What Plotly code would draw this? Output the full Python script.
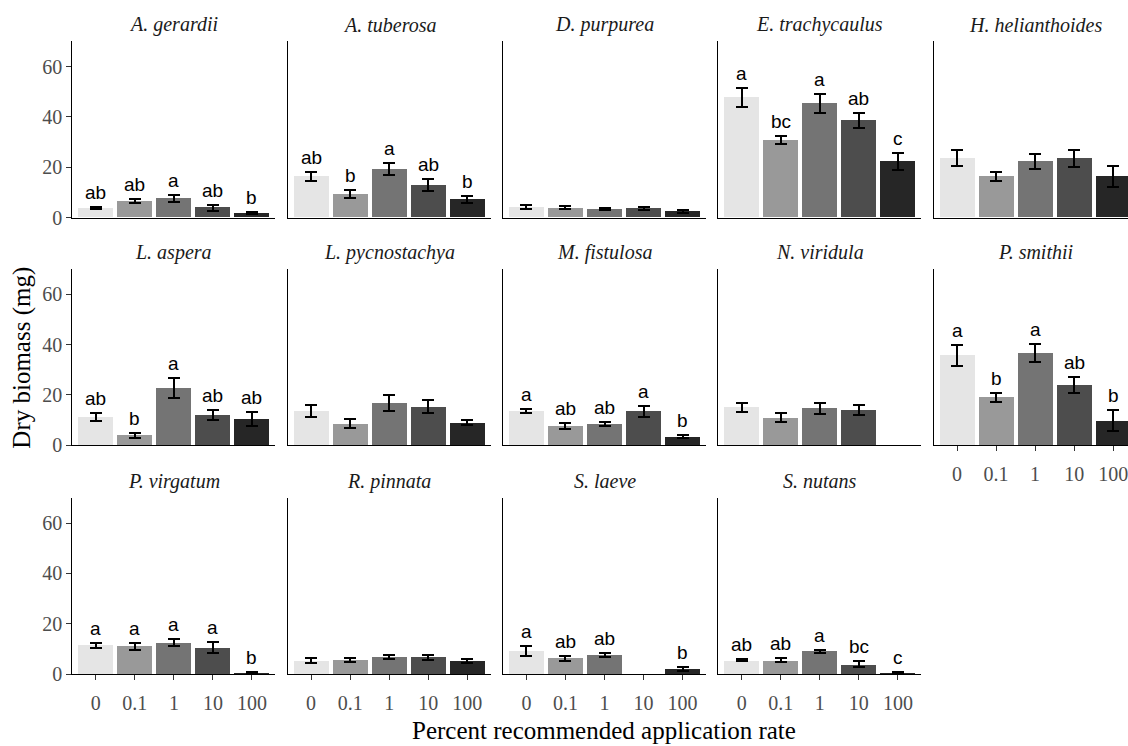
import plotly.graph_objects as go

# Application rates (percent of recommended) shown on every panel
rates = ["0", "0.1", "1", "10", "100"]

species = [
    "A. gerardii", "A. tuberosa", "D. purpurea", "E. trachycaulus", "H. helianthoides",
    "L. aspera", "L. pycnostachya", "M. fistulosa", "N. viridula", "P. smithii",
    "P. virgatum", "R. pinnata", "S. laeve", "S. nutans",
]

# Mean dry biomass (mg) per species and rate; None = no surviving plants
biomass_mean = [
    [3.9, 6.6, 7.7, 4.0, 1.8],
    [16.3, 9.4, 19.3, 13.0, 7.3],
    [4.3, 3.9, 3.3, 3.6, 2.5],
    [47.7, 30.8, 45.5, 38.5, 22.2],
    [23.7, 16.4, 22.3, 23.5, 16.3],
    [11.1, 4.0, 22.9, 12.0, 10.4],
    [13.6, 8.6, 16.8, 15.4, 9.0],
    [13.5, 7.7, 8.5, 13.5, 3.5],
    [15.2, 11.0, 14.7, 14.0, None],
    [35.8, 19.0, 36.7, 23.9, 9.7],
    [11.5, 11.1, 12.5, 10.6, 0.6],
    [5.5, 5.7, 6.9, 6.8, 5.3],
    [9.2, 6.4, 7.6, None, 2.1],
    [5.5, 5.5, 9.1, 3.9, 0.6],
]

# Standard error of the mean
biomass_se = [
    [0.4, 0.8, 1.3, 1.2, 0.5],
    [1.9, 1.75, 2.5, 2.4, 1.3],
    [0.8, 0.6, 0.4, 0.6, 0.6],
    [3.8, 1.5, 3.8, 3.0, 3.3],
    [3.0, 1.9, 2.9, 3.2, 4.1],
    [1.6, 1.0, 4.0, 2.0, 2.7],
    [2.4, 1.8, 3.0, 2.5, 1.1],
    [0.8, 1.2, 0.7, 2.3, 0.5],
    [1.8, 1.7, 2.2, 2.1, None],
    [4.2, 1.8, 3.5, 3.2, 4.2],
    [1.0, 1.3, 1.3, 2.0, 0.4],
    [1.0, 0.7, 0.9, 1.0, 0.8],
    [1.8, 1.0, 0.9, None, 0.7],
    [0.45, 0.8, 0.7, 1.2, 0.3],
]

# Compact letter display from post-hoc comparisons ("" = not shown)
group_letters = [
    ["ab", "ab", "a", "ab", "b"],
    ["ab", "b", "a", "ab", "b"],
    ["", "", "", "", ""],
    ["a", "bc", "a", "ab", "c"],
    ["", "", "", "", ""],
    ["ab", "b", "a", "ab", "ab"],
    ["", "", "", "", ""],
    ["a", "ab", "ab", "a", "b"],
    ["", "", "", "", ""],
    ["a", "b", "a", "ab", "b"],
    ["a", "a", "a", "a", "b"],
    ["", "", "", "", ""],
    ["a", "ab", "ab", "", "b"],
    ["ab", "ab", "a", "bc", "c"],
]

bar_colors = ["#E5E5E5", "#999999", "#747474", "#4D4D4D", "#262626"]

W, H = 1128, 746
NCOL = 5
panel_left = [72.4 + i * 215.3 for i in range(NCOL)]
panel_w = 203.0
panel_bottom = [221.0, 452.0, 684.3]
panel_h = 179.0
unit_px = panel_w / 5.2
YMAX = 70

SERIF = "Liberation Serif, Times New Roman, serif"
SANS = "Liberation Sans, Arial, sans-serif"

fig = go.Figure()
annotations = []

for k, name in enumerate(species):
    r, c = divmod(k, NCOL)
    n = k + 1
    xa = "xaxis" if n == 1 else f"xaxis{n}"
    ya = "yaxis" if n == 1 else f"yaxis{n}"
    xref = "x" if n == 1 else f"x{n}"
    yref = "y" if n == 1 else f"y{n}"

    x0 = panel_left[c]
    x1 = min(x0 + panel_w, W)
    xmax = -0.6 + (x1 - x0) / unit_px
    yb = panel_bottom[r]
    yt = yb - panel_h

    means = [float("nan") if v is None else v for v in biomass_mean[k]]
    ses = [float("nan") if v is None else v for v in biomass_se[k]]

    fig.add_trace(go.Bar(
        x=list(range(5)), y=means, width=0.9,
        marker=dict(color=bar_colors, line=dict(width=0)),
        error_y=dict(type="data", array=ses, visible=True,
                     color="black", thickness=2, width=6),
        xaxis=xref, yaxis=yref, showlegend=False, cliponaxis=True,
    ))

    has_xlabels = (r == 2) or (k == 9)
    fig.layout[xa] = dict(
        domain=[x0 / W, x1 / W], range=[-0.6, xmax],
        anchor=yref, showgrid=False, zeroline=False,
        showline=True, linecolor="black", linewidth=1.2,
        tickmode="array", tickvals=list(range(5)), ticktext=rates,
        showticklabels=has_xlabels, ticklabeloverflow="allow",
        ticklabelstandoff=6,
        ticks="outside" if has_xlabels else "", ticklen=5, tickwidth=1.2,
        tickcolor="#333333",
        tickfont=dict(family=SERIF, size=20, color="#4D4D4D"),
        fixedrange=True,
    )
    fig.layout[ya] = dict(
        domain=[(H - yb) / H, (H - yt) / H], range=[0, YMAX],
        anchor=xref, showgrid=False, zeroline=False,
        showline=True, linecolor="black", linewidth=1.2,
        tickmode="array", tickvals=[0, 20, 40, 60],
        showticklabels=(c == 0),
        ticks="outside" if c == 0 else "", ticklen=5, tickwidth=1.2,
        tickcolor="#333333",
        tickfont=dict(family=SERIF, size=20, color="#4D4D4D"),
        fixedrange=True,
    )

    # Panel strip title
    annotations.append(dict(
        text=f"<i>{name}</i>", xref="paper", yref="paper",
        x=(x0 + panel_w / 2) / W, y=(H - (yt - 17)) / H,
        xanchor="center", yanchor="middle", showarrow=False,
        font=dict(family=SERIF, size=20, color="#1A1A1A"),
    ))

    # Significance letters above the error bars
    for i, lab in enumerate(group_letters[k]):
        if not lab or biomass_mean[k][i] is None:
            continue
        annotations.append(dict(
            text=lab, xref=xref, yref=yref,
            x=i, y=biomass_mean[k][i] + biomass_se[k][i],
            xanchor="center", yanchor="bottom", yshift=2,
            showarrow=False,
            font=dict(family=SANS, size=19, color="black"),
        ))

# Shared axis titles
annotations.append(dict(
    text="Percent recommended application rate", xref="paper", yref="paper",
    x=604 / W, y=(H - 741) / H, xanchor="center", yanchor="middle",
    showarrow=False, font=dict(family=SERIF, size=25, color="black"),
))
annotations.append(dict(
    text="Dry biomass (mg)", xref="paper", yref="paper",
    x=22 / W, y=(H - 363) / H, xanchor="center", yanchor="middle",
    textangle=-90, showarrow=False,
    font=dict(family=SERIF, size=25, color="black"),
))

fig.update_layout(
    width=W, height=H,
    margin=dict(l=0, r=0, t=0, b=0),
    paper_bgcolor="white", plot_bgcolor="white",
    bargap=0, annotations=annotations,
)

fig.write_html("out.html", config={"displayModeBar": False})
